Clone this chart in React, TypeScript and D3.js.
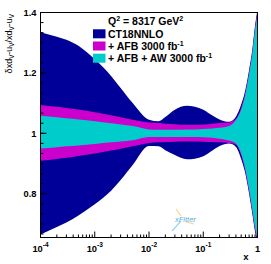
import React from 'react';
import * as d3 from 'd3';

// ---------- data ----------
const xs = [1e-4, 2e-4, 3e-4, 5e-4, 1e-3, 2e-3, 3e-3, 5e-3, 1e-2, 1.5e-2, 2e-2, 3e-2, 5e-2, 7e-2, 0.1, 0.15, 0.2, 0.3, 0.4, 0.5, 0.6, 0.7, 0.8, 0.9, 0.95, 0.99];

const ct18Up = [1.335, 1.32, 1.31, 1.29, 1.245, 1.19, 1.15, 1.10, 1.045, 1.040, 1.054, 1.078, 1.091, 1.088, 1.078, 1.058, 1.046, 1.038, 1.055, 1.095, 1.145, 1.21, 1.275, 1.355, 1.385, 1.405];
const ct18Lo = [0.665, 0.69, 0.705, 0.728, 0.765, 0.81, 0.845, 0.895, 0.958, 0.957, 0.944, 0.928, 0.914, 0.916, 0.924, 0.944, 0.958, 0.966, 0.955, 0.915, 0.865, 0.80, 0.735, 0.675, 0.653, 0.643];

const afbUp = [1.094, 1.088, 1.084, 1.079, 1.07, 1.06, 1.053, 1.045, 1.036, 1.034, 1.032, 1.030, 1.028, 1.028, 1.029, 1.032, 1.034, 1.036, 1.048, 1.085, 1.138, 1.203, 1.268, 1.348, 1.378, 1.398];
const afbLo = [0.909, 0.915, 0.919, 0.925, 0.933, 0.943, 0.949, 0.957, 0.968, 0.970, 0.971, 0.972, 0.973, 0.973, 0.972, 0.971, 0.970, 0.968, 0.962, 0.927, 0.872, 0.807, 0.742, 0.682, 0.66, 0.65];

const awUp = [1.058, 1.053, 1.050, 1.046, 1.040, 1.033, 1.029, 1.024, 1.013, 1.012, 1.012, 1.012, 1.013, 1.013, 1.014, 1.016, 1.018, 1.024, 1.044, 1.078, 1.13, 1.195, 1.26, 1.34, 1.37, 1.39];
const awLo = [0.950, 0.954, 0.957, 0.960, 0.965, 0.970, 0.973, 0.977, 0.988, 0.988, 0.988, 0.988, 0.988, 0.988, 0.987, 0.985, 0.982, 0.976, 0.966, 0.933, 0.88, 0.815, 0.75, 0.69, 0.668, 0.655];

const xMajor = [1e-4, 1e-3, 1e-2, 1e-1, 1];
const xLabelBase = ['10', '10', '10', '10', '1'];
const xLabelExp = ['-4', '-3', '-2', '-1', ''];
const yMajor = [0.8, 1.0, 1.2, 1.4];
const yLabels = ['0.8', '1', '1.2', '1.4'];

const legendNames = ['CT18NNLO', '+ AFB 3000 fb', '+ AFB + AW 3000 fb'];
const legendSup = ['', '-1', '-1'];
const legendColors = ['#000099', '#cc00cc', '#00cccc'];

// ---------- layout ----------
const W = 271, H = 264;
const L = 40.5, R = 257.5, T = 12.5, B = 237.5;
const font = "'Liberation Sans', Arial, Helvetica, sans-serif";

export default function App() {
  const x = d3.scaleLog().domain([1e-4, 1]).range([L, R]);
  const y = d3.scaleLinear().domain([0.655, 1.4]).range([B, T]);

  const band = (up: number[], lo: number[]) =>
    d3.area<number>()
      .x((_, i) => x(xs[i]))
      .y0((_, i) => y(lo[i]))
      .y1((_, i) => y(up[i]))
      .curve(d3.curveMonotoneX)(xs.map((_, i) => i)) || '';

  // minor ticks
  const xMinor: number[] = [];
  for (let e = -4; e < 0; e++) for (let k = 2; k <= 9; k++) xMinor.push(k * Math.pow(10, e));
  const yMinor: number[] = [];
  for (let v = 0.6; v <= 1.4001; v += 0.2 / 6) if (v >= 0.655 && v <= 1.4) yMinor.push(v);

  const rowY = [33.8, 46, 58.2];

  return (
    <svg width={W} height={H} style={{ position: 'absolute', left: 0, top: 0, background: '#fff' }} fontFamily={font}>
      <defs>
        <clipPath id="plot"><rect x={L} y={T} width={R - L} height={B - T} /></clipPath>
      </defs>
      <rect x={0} y={0} width={W} height={H} fill="#fff" />
      <g clipPath="url(#plot)">
        <path d={band(ct18Up, ct18Lo)} fill={legendColors[0]} />
        <path d={band(afbUp, afbLo)} fill={legendColors[1]} />
        <path d={band(awUp, awLo)} fill={legendColors[2]} />
      </g>

      {/* xFitter logo */}
      <g>
        <line x1={172} y1={231} x2={181} y2={221} stroke="#9fd3f0" strokeWidth={1.2} />
        <line x1={176} y1={209} x2={181} y2={216} stroke="#f5d58a" strokeWidth={1.2} />
        <line x1={186} y1={222} x2={194} y2={224} stroke="#f5d58a" strokeWidth={1} />
        <text x={175} y={222} fontSize={7.5} fontStyle="italic" fill="#5aaee0">xFitter</text>
      </g>

      {/* frame */}
      <rect x={L} y={T} width={R - L} height={B - T} fill="none" stroke="#000" strokeWidth={1} />

      {/* x ticks */}
      {xMajor.map((v, i) => (
        <line key={'xM' + i} x1={x(v)} x2={x(v)} y1={B} y2={B - 6} stroke="#000" />
      ))}
      {xMinor.map((v, i) => (
        <line key={'xm' + i} x1={x(v)} x2={x(v)} y1={B} y2={B - 3} stroke="#000" />
      ))}
      {xMajor.map((v, i) => (
        <text key={'xl' + i} x={x(v)} y={251.5} fontSize={9.3} fontWeight="bold" textAnchor="middle">
          {xLabelBase[i]}
          {xLabelExp[i] && <tspan fontSize={6.5} dy={-4.5}>{xLabelExp[i]}</tspan>}
        </text>
      ))}
      <text x={248.5} y={260} fontSize={9.5} fontWeight="bold" textAnchor="end">x</text>

      {/* y ticks */}
      {yMajor.map((v, i) => (
        <line key={'yM' + i} x1={L} x2={L + 6} y1={y(v)} y2={y(v)} stroke="#000" />
      ))}
      {yMinor.map((v, i) => (
        <line key={'ym' + i} x1={L} x2={L + 3} y1={y(v)} y2={y(v)} stroke="#000" />
      ))}
      {yMajor.map((v, i) => (
        <text key={'yl' + i} x={36.5} y={y(v) + 3.3} fontSize={9.3} fontWeight="bold" textAnchor="end">{yLabels[i]}</text>
      ))}
      <text transform="translate(12,14) rotate(-90)" fontSize={9} textAnchor="end">
        δxd<tspan fontSize={6.3} dy={2}>V</tspan>
        <tspan dy={-2}>-u</tspan><tspan fontSize={6.3} dy={2}>V</tspan>
        <tspan dy={-2}>/xd</tspan><tspan fontSize={6.3} dy={2}>V</tspan>
        <tspan dy={-2}>-u</tspan><tspan fontSize={6.3} dy={2}>V</tspan>
      </text>

      {/* legend */}
      <text x={108} y={25} fontSize={10.5} fontWeight="bold">
        Q<tspan fontSize={7} dy={-4}>2</tspan><tspan dy={4}> = 8317 GeV</tspan><tspan fontSize={7} dy={-4}>2</tspan>
      </text>
      {legendNames.map((n, i) => (
        <g key={'lg' + i}>
          <rect x={93} y={rowY[i] - 4.5} width={12.5} height={9} fill={legendColors[i]} />
          <text x={108} y={rowY[i] + 3.7} fontSize={10.5} fontWeight="bold">
            {n}
            {legendSup[i] && <tspan fontSize={7} dy={-4}>{legendSup[i]}</tspan>}
          </text>
        </g>
      ))}
    </svg>
  );
}
